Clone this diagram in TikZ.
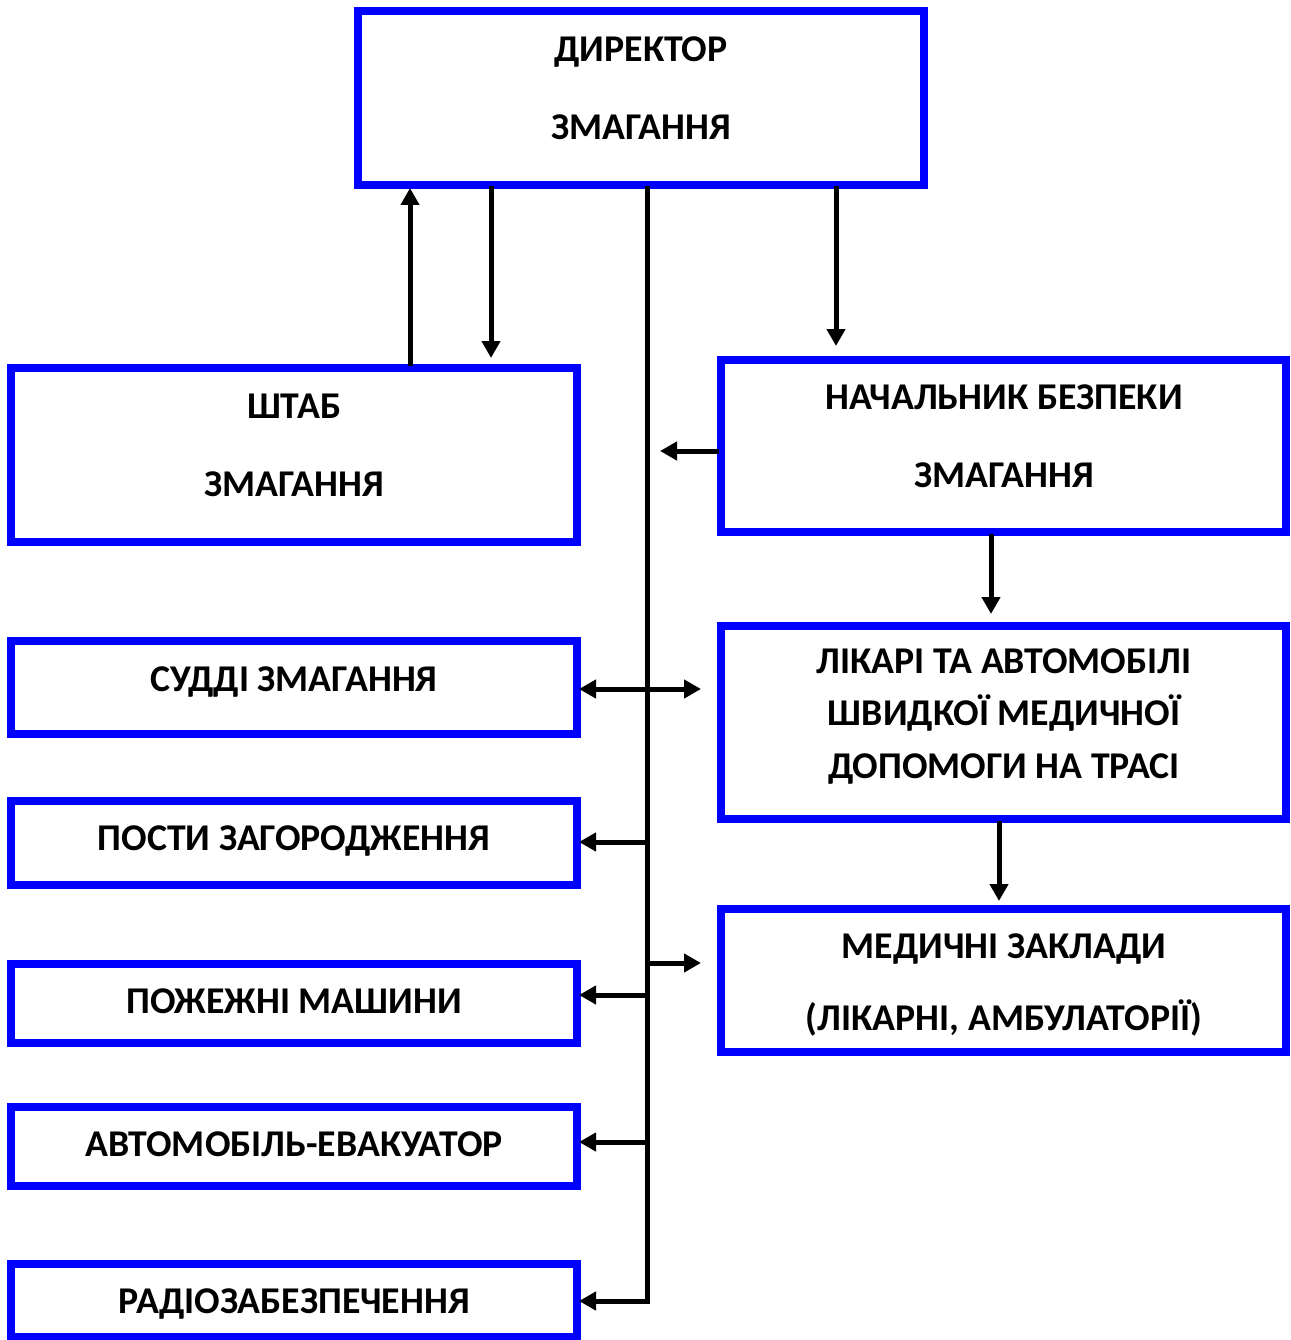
\documentclass[tikz,border=0pt]{standalone}
\usepackage{fontspec}
\setmainfont{Carlito}
\usetikzlibrary{arrows.meta}
\definecolor{boxblue}{RGB}{0,0,255}
\tikzset{
  box/.style={draw=boxblue, line width=7.5pt, fill=none},
  lbl/.style={font=\bfseries\fontsize{37.8}{44}\selectfont, text height=24pt, text depth=0pt, inner sep=0pt, anchor=center},
  conn/.style={line width=5pt, draw=black},
  arr/.style={conn, -{Triangle[width=18pt,length=17pt]}},
  darr/.style={conn, {Triangle[width=18pt,length=17pt]}-{Triangle[width=18pt,length=17pt]}}
}
\begin{document}
\begin{tikzpicture}[x=1pt,y=-1pt]
\useasboundingbox (0,0) rectangle (1290,1340);
\clip (0,0) rectangle (1290,1340);
% boxes
\draw[box] (358,11) rectangle (924,185);
\draw[box] (11,368) rectangle (577,542);
\draw[box] (721,360) rectangle (1286,532);
\draw[box] (11,641) rectangle (577,734);
\draw[box] (721,626) rectangle (1286,819);
\draw[box] (11,801) rectangle (577,885);
\draw[box] (721,909) rectangle (1286,1052);
\draw[box] (11,964) rectangle (577,1043);
\draw[box] (11,1107) rectangle (577,1186);
\draw[box] (11,1264) rectangle (577,1337);
% labels
\node[lbl] (d1) at (641,50) {ДИРЕКТОР};
\node[lbl] (d2) at (641,128) {ЗМАГАННЯ};
\node[lbl] (s1) at (294,406) {ШТАБ};
\node[lbl] (s2) at (294,484) {ЗМАГАННЯ};
\node[lbl] (n1) at (1004,397) {НАЧАЛЬНИК БЕЗПЕКИ};
\node[lbl] (n2) at (1004,475) {ЗМАГАННЯ};
\node[lbl] (j1) at (294,679) {СУДДІ ЗМАГАННЯ};
\node[lbl] (l1) at (1004,661) {ЛІКАРІ ТА АВТОМОБІЛІ};
\node[lbl] (l2) at (1004,713) {ШВИДКОЇ МЕДИЧНОЇ};
\node[lbl] (l3) at (1004,766) {ДОПОМОГИ НА ТРАСІ};
\node[lbl] (p1) at (294,838) {ПОСТИ ЗАГОРОДЖЕННЯ};
\node[lbl] (m1) at (1004,946) {МЕДИЧНІ ЗАКЛАДИ};
\node[lbl] (m2) at (1004,1018) {(ЛІКАРНІ, АМБУЛАТОРІЇ)};
\node[lbl] (f1) at (294,1001) {ПОЖЕЖНІ МАШИНИ};
\node[lbl] (e1) at (294,1144) {АВТОМОБІЛЬ-ЕВАКУАТОР};
\node[lbl] (r1) at (294,1301) {РАДІОЗАБЕЗПЕЧЕННЯ};
% connector coordinates
\coordinate (shtabTop) at (410,366);
\coordinate (dirUp) at (410,188);
\coordinate (dirA) at (491,186);
\coordinate (shtabIn) at (491,358);
\coordinate (dirC) at (836,186);
\coordinate (nachIn) at (836,346);
\coordinate (nachL) at (719,451);
\coordinate (nachTip) at (660,451);
\coordinate (nachB) at (991,534);
\coordinate (likIn) at (991,614);
\coordinate (likB) at (999,821);
\coordinate (medIn) at (999,901);
\coordinate (trTop) at (647,186);
\coordinate (trBot) at (647,1301);
\coordinate (judL) at (579,689);
\coordinate (judR) at (701,689);
\coordinate (postT) at (579,842);
\coordinate (fireT) at (579,995);
\coordinate (evT) at (579,1142);
\coordinate (radT) at (579,1301);
\coordinate (medT) at (701,963);
% connectors
\draw[arr] (shtabTop) -- (dirUp);
\draw[arr] (dirA) -- (shtabIn);
\draw[arr] (dirC) -- (nachIn);
\draw[arr] (nachL) -- (nachTip);
\draw[arr] (nachB) -- (likIn);
\draw[arr] (likB) -- (medIn);
\draw[conn] (trTop) -- (trBot);
\draw[darr] (judL) -- (judR);
\draw[arr] (postT -| trTop) -- (postT);
\draw[arr] (fireT -| trTop) -- (fireT);
\draw[arr] (evT -| trTop) -- (evT);
\draw[arr] ([xshift=2.5pt]trBot) -- (radT);
\draw[arr] (medT -| trTop) -- (medT);
\end{tikzpicture}
\end{document}
